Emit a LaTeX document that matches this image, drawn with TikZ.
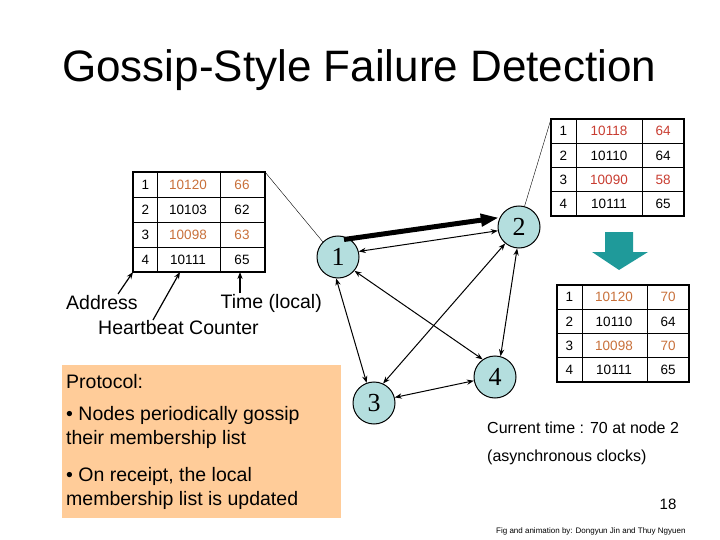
\documentclass[tikz,border=0pt]{standalone}
\usepackage{fontspec}
\setmainfont{Liberation Sans}
\usetikzlibrary{arrows.meta,shapes.arrows}
\definecolor{org}{HTML}{C8703A}
\definecolor{rd}{HTML}{C83C30}
\definecolor{peach}{HTML}{FFCC99}
\definecolor{nodec}{HTML}{B4DEDE}
\definecolor{teal2}{HTML}{1F9A9A}
\begin{document}
\begin{tikzpicture}[x=1pt,y=-1pt,
  gnode/.style={circle,draw,line width=1pt,fill=nodec,minimum size=42pt,inner sep=0pt,font=\fontspec{Liberation Serif}\fontsize{26}{26}\selectfont},
  cell/.style={font=\fontsize{13.5}{13.5}\selectfont},
  dbl/.style={{Stealth[length=7pt]}-{Stealth[length=7pt]},line width=1pt},
  lbl/.style={font=\fontsize{19.5}{19.5}\selectfont,inner sep=0pt}]
\useasboundingbox (0,0) rectangle (720,540);
\node[anchor=west,font=\fontsize{44}{44}\selectfont,inner sep=0] (title) at (62,70) {Gossip-Style Failure Detection};
% left table
\draw[line width=1.5pt] (133,172) rectangle (265,272);
\foreach \y in {197,222,247} \draw[line width=0.8pt] (133,\y) -- (265,\y);
\draw[line width=0.8pt] (157,172) -- (157,272); \draw[line width=0.8pt] (220,172) -- (220,272);
\coordinate (LT) at (265,172); \coordinate (LBL) at (133,272); \coordinate (LBH) at (180,272); \coordinate (LBT) at (240,272);
\foreach \i/\a/\b/\c [count=\k] in {1/10120/66/org,2/10103/62/black,3/10098/63/org,4/10111/65/black}{
 \node[cell,anchor=west] at (138,{172+25*\k-12.5}) {\i};
 \node[cell,text=\c] at (188,{172+25*\k-12.5}) {\a};
 \node[cell,text=\c] at (242,{172+25*\k-12.5}) {\b};}
% top right table
\draw[line width=1.5pt] (551,119) rectangle (684,216);
\foreach \y in {143.25,167.5,191.75} \draw[line width=0.8pt] (551,\y) -- (684,\y);
\draw[line width=0.8pt] (576,119) -- (576,216); \draw[line width=0.8pt] (642,119) -- (642,216);
\coordinate (RT) at (551,119);
\foreach \i/\a/\b/\c [count=\k] in {1/10118/64/rd,2/10110/64/black,3/10090/58/rd,4/10111/65/black}{
 \node[cell,anchor=west] at (556,{119+24.25*\k-12.1}) {\i};
 \node[cell,text=\c] at (609,{119+24.25*\k-12.1}) {\a};
 \node[cell,text=\c] at (663,{119+24.25*\k-12.1}) {\b};}
% bottom right table
\draw[line width=1.5pt] (557,285) rectangle (689,382);
\foreach \y in {309.25,333.5,357.75} \draw[line width=0.8pt] (557,\y) -- (689,\y);
\draw[line width=0.8pt] (582,285) -- (582,382); \draw[line width=0.8pt] (647,285) -- (647,382);
\foreach \i/\a/\b/\c [count=\k] in {1/10120/70/org,2/10110/64/black,3/10098/70/org,4/10111/65/black}{
 \node[cell,anchor=west] at (562,{285+24.25*\k-12.1}) {\i};
 \node[cell,text=\c] at (614,{285+24.25*\k-12.1}) {\a};
 \node[cell,text=\c] at (668,{285+24.25*\k-12.1}) {\b};}
% block arrow
\fill[teal2] (605,232) -- (633,232) -- (633,252) -- (648,252) -- (619,270) -- (592,252) -- (605,252) -- cycle;
% graph nodes
\node[gnode] (n1) at (338,257) {1};
\node[gnode] (n2) at (519,227) {2};
\node[gnode] (n3) at (374,403) {3};
\node[gnode] (n4) at (495,377) {4};
\draw (LT) -- (n1.135);
\draw (n2.75) -- (RT);
\draw[line width=5pt,-{Triangle[length=18pt,width=12pt]}] ([xshift=6pt,yshift=-4pt]n1.north) -- ([yshift=2pt]n2.160);
\draw[dbl] (n1.15) -- (n2.190);
\draw[dbl] (n1.265) -- (n3.110);
\draw[dbl] (n1.320) -- (n4.125);
\draw[dbl] (n2.230) -- (n3.65);
\draw[dbl] (n2.265) -- (n4.75);
\draw[dbl] (n3.15) -- (n4.190);
% labels
\node[lbl,anchor=west] (addr) at (66,303) {Address};
\node[lbl,anchor=east] (time) at (322,303) {Time (local)};
\node[lbl,anchor=west] (hb) at (98,328) {Heartbeat Counter};
\draw[line width=1.2pt,-{Stealth[length=7pt]}] (118,294) -- (LBL);
\draw[line width=1.2pt,-{Stealth[length=7pt]}] (153,320) -- (LBH);
\draw[line width=1.2pt,-{Stealth[length=7pt]}] (240,293) -- (LBT);
% protocol box
\node[fill=peach,minimum width=279pt,minimum height=153pt,anchor=north west,inner sep=0] (pbox) at (62,365) {};
\node[anchor=west,font=\fontsize{19.5}{22}\selectfont,inner sep=0] at (66,382) {Protocol:};
\node[anchor=north west,font=\fontsize{19.5}{24}\selectfont,inner sep=0,align=left] at (66,406) {• Nodes periodically gossip\\their membership list};
\node[anchor=north west,font=\fontsize{19.5}{24}\selectfont,inner sep=0,align=left] at (66,467) {• On receipt, the local\\membership list is updated};
\node[anchor=west,font=\fontsize{16}{16}\selectfont,inner sep=0] at (487,428) {Current time : 70 at node 2};
\node[anchor=west,font=\fontsize{16}{16}\selectfont,inner sep=0] at (487,457) {(asynchronous clocks)};
\node[font=\fontsize{15}{15}\selectfont,inner sep=0] at (668,504) {18};
\node[anchor=west,font=\fontsize{8}{8}\selectfont,inner sep=0] at (496,531) {Fig and animation by: Dongyun Jin and Thuy Ngyuen};
\end{tikzpicture}
\end{document}
